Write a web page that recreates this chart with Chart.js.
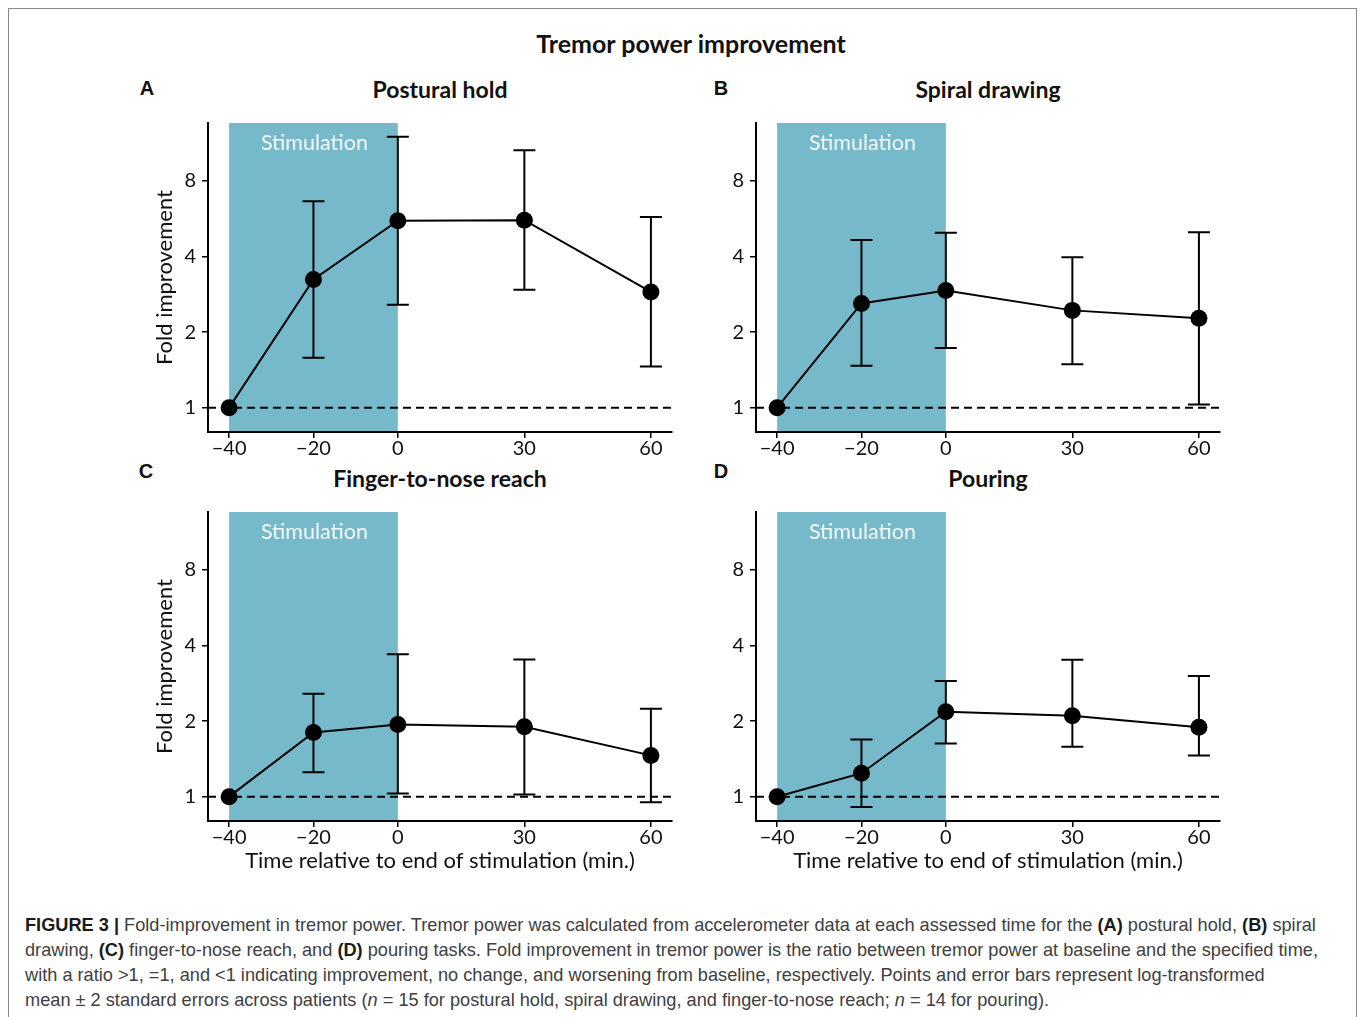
<!DOCTYPE html>
<html>
<head>
<meta charset="utf-8">
<script src="https://cdn.jsdelivr.net/npm/chart.js@4.4.0/dist/chart.umd.min.js"></script>
<style>
  body { margin: 0; background: #fff; width: 1360px; height: 1017px; position: relative; overflow: hidden; font-family: Lato, "Noto Sans", sans-serif; }
  #frame { position: absolute; left: 8px; top: 8px; width: 1347px; height: 1040px; border: 1px solid #8a8a8a; }
  .centered { position: absolute; transform: translate(-50%, -50%); white-space: nowrap; font-weight: bold; color: #111; }
  .maintitle { font-size: 25px; }
  .ptitle { font-size: 23px; }
  .letter { position: absolute; transform: translate(-50%, -50%); font-family: "Liberation Sans", Arial, sans-serif; font-weight: bold; font-size: 20px; color: #111; }
  canvas { position: absolute; }
  .cap { position: absolute; left: 25px; white-space: nowrap; font-family: "Liberation Sans", Arial, sans-serif; font-size: 18.2px; line-height: 25px; color: #404040; }
  .cap b { color: #1a1a1a; }
</style>
</head>
<body>
<div id="frame"></div>

<div class="centered maintitle" style="left:691px; top:43px;">Tremor power improvement</div>

<div class="letter" style="left:147px; top:88px;">A</div>
<div class="letter" style="left:721px; top:88px;">B</div>
<div class="letter" style="left:146px; top:471px;">C</div>
<div class="letter" style="left:721px; top:471px;">D</div>

<div class="centered ptitle" style="left:440px; top:89px;">Postural hold</div>
<div class="centered ptitle" style="left:988px; top:89px;">Spiral drawing</div>
<div class="centered ptitle" style="left:440px; top:478px;">Finger-to-nose reach</div>
<div class="centered ptitle" style="left:988px; top:478px;">Pouring</div>

<canvas id="chartA" width="545" height="357" style="left:140px; top:105px;"></canvas>
<canvas id="chartB" width="545" height="357" style="left:688px; top:105px;"></canvas>
<canvas id="chartC" width="545" height="380" style="left:140px; top:494px;"></canvas>
<canvas id="chartD" width="545" height="380" style="left:688px; top:494px;"></canvas>

<div class="cap" style="top:913px;"><b>FIGURE 3 |</b> Fold-improvement in tremor power. Tremor power was calculated from accelerometer data at each assessed time for the <b>(A)</b> postural hold, <b>(B)</b> spiral</div>
<div class="cap" style="top:938px;">drawing, <b>(C)</b> finger-to-nose reach, and <b>(D)</b> pouring tasks. Fold improvement in tremor power is the ratio between tremor power at baseline and the specified time,</div>
<div class="cap" style="top:963px;">with a ratio &gt;1, =1, and &lt;1 indicating improvement, no change, and worsening from baseline, respectively. Points and error bars represent log-transformed</div>
<div class="cap" style="top:988px;">mean ± 2 standard errors across patients (<i>n</i> = 15 for postural hold, spiral drawing, and finger-to-nose reach; <i>n</i> = 14 for pouring).</div>

<script>
// Tiempos evaluados (min. respecto al fin de la estimulación)
const times = [-40, -20, 0, 30, 60];
const xTicks = [-40, -20, 0, 30, 60];
const yTicks = [1, 2, 4, 8];
const stimStart = -40;
const stimEnd = 0;

// A: postural hold
const posturalMean = [1, 3.24, 5.55, 5.58, 2.89];
const posturalLow  = [null, 1.58, 2.57, 2.95, 1.46];
const posturalHigh = [null, 6.64, 12.0, 10.6, 5.74];

// B: spiral drawing
const spiralMean = [1, 2.60, 2.93, 2.44, 2.27];
const spiralLow  = [null, 1.47, 1.73, 1.49, 1.03];
const spiralHigh = [null, 4.65, 4.97, 3.97, 4.99];

// C: finger-to-nose reach
const fingerMean = [1, 1.80, 1.94, 1.90, 1.46];
const fingerLow  = [null, 1.25, 1.03, 1.02, 0.95];
const fingerHigh = [null, 2.57, 3.69, 3.52, 2.24];

// D: pouring
const pouringMean = [1, 1.24, 2.18, 2.10, 1.89];
const pouringLow  = [null, 0.91, 1.63, 1.58, 1.46];
const pouringHigh = [null, 1.69, 2.89, 3.51, 3.02];

const STIM_COLOR = '#76b9ca';
const TICK_FONT = { family: 'Lato, "Noto Sans", sans-serif', size: 20 };
const TITLE_FONT = { family: 'Lato, "Noto Sans", sans-serif', size: 22 };

// Plugin: zona de estimulación, línea de referencia y barras de error
const panelExtras = {
    id: 'panelExtras',
    beforeDraw(chart) {
        const { ctx, chartArea, scales } = chart;
        const x0 = scales.x.getPixelForValue(stimStart);
        const x1 = scales.x.getPixelForValue(stimEnd);
        ctx.save();
        ctx.fillStyle = STIM_COLOR;
        ctx.fillRect(x0, chartArea.top, x1 - x0, chartArea.bottom - chartArea.top);
        ctx.fillStyle = '#f4fafc';
        ctx.font = '21.5px Lato, "Noto Sans", sans-serif';
        ctx.textAlign = 'center';
        ctx.textBaseline = 'middle';
        ctx.fillText('Stimulation', (x0 + x1) / 2 + 1, chartArea.top + 20);
        ctx.restore();
    },
    beforeDatasetsDraw(chart, args, opts) {
        const { ctx, chartArea, scales } = chart;
        const y1 = scales.y.getPixelForValue(1);
        ctx.save();
        ctx.strokeStyle = '#000';
        ctx.lineWidth = 2;
        ctx.setLineDash([8, 5]);
        ctx.beginPath();
        ctx.moveTo(chartArea.left, y1);
        ctx.lineTo(chartArea.right, y1);
        ctx.stroke();
        ctx.setLineDash([]);

        const cap = 11;
        times.forEach((t, i) => {
            if (opts.low[i] == null || opts.high[i] == null) return;
            const px = scales.x.getPixelForValue(t);
            const pLow = scales.y.getPixelForValue(opts.low[i]);
            const pHigh = scales.y.getPixelForValue(opts.high[i]);
            ctx.beginPath();
            ctx.moveTo(px, pLow);
            ctx.lineTo(px, pHigh);
            ctx.moveTo(px - cap, pLow);
            ctx.lineTo(px + cap, pLow);
            ctx.moveTo(px - cap, pHigh);
            ctx.lineTo(px + cap, pHigh);
            ctx.stroke();
        });
        ctx.restore();
    }
};

function makePanel(canvasId, means, low, high, showYTitle, showXTitle) {
    const canvas = document.getElementById(canvasId);
    const points = times.map((t, i) => ({ x: t, y: means[i] }));

    return new Chart(canvas, {
        type: 'line',
        data: {
            datasets: [{
                data: points,
                borderColor: '#000',
                borderWidth: 2,
                backgroundColor: '#000',
                pointRadius: 8.5,
                pointBorderWidth: 0,
                pointBackgroundColor: '#000',
                tension: 0
            }]
        },
        options: {
            responsive: false,
            animation: false,
            devicePixelRatio: 1,
            layout: { padding: { left: 0, right: 13, top: 17, bottom: 0 } },
            plugins: {
                legend: { display: false },
                tooltip: { enabled: false },
                panelExtras: { low: low, high: high }
            },
            scales: {
                x: {
                    type: 'linear',
                    min: -45,
                    max: 65,
                    afterBuildTicks: s => { s.ticks = xTicks.map(v => ({ value: v })); },
                    afterFit: s => { s.height = showXTitle ? 53 : 30; },
                    ticks: {
                        autoSkip: false,
                        maxRotation: 0,
                        padding: -1,
                        color: '#111',
                        font: TICK_FONT,
                        callback: v => (v < 0 ? '\u2212' + Math.abs(v) : String(v))
                    },
                    grid: { display: true, drawOnChartArea: false, drawTicks: true, tickLength: 6, color: '#000', lineWidth: 1.5 },
                    border: { display: true, color: '#000', width: 2 },
                    title: {
                        display: showXTitle,
                        text: 'Time relative to end of stimulation (min.)',
                        color: '#111',
                        font: TITLE_FONT,
                        padding: { top: 0, bottom: 0 }
                    }
                },
                y: {
                    type: 'logarithmic',
                    min: 0.8,
                    max: 13.6,
                    afterBuildTicks: s => { s.ticks = yTicks.map(v => ({ value: v })); },
                    afterFit: s => { s.width = 68; },
                    ticks: {
                        padding: 6,
                        color: '#111',
                        font: TICK_FONT,
                        callback: v => String(v)
                    },
                    grid: { display: true, drawOnChartArea: false, drawTicks: true, tickLength: 6, color: '#000', lineWidth: 1.5 },
                    border: { display: true, color: '#000', width: 2 },
                    title: {
                        display: showYTitle,
                        text: 'Fold improvement',
                        color: '#111',
                        font: TITLE_FONT,
                        padding: { top: 12, bottom: 0 }
                    }
                }
            }
        },
        plugins: [panelExtras]
    });
}

makePanel('chartA', posturalMean, posturalLow, posturalHigh, true, false);
makePanel('chartB', spiralMean, spiralLow, spiralHigh, false, false);
makePanel('chartC', fingerMean, fingerLow, fingerHigh, true, true);
makePanel('chartD', pouringMean, pouringLow, pouringHigh, false, true);
</script>
</body>
</html>
